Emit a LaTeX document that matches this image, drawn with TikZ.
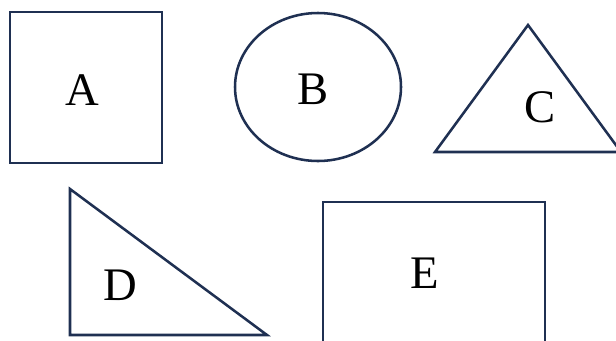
\documentclass[tikz,border=0pt]{standalone}
\usepackage{fontspec}
\setmainfont{Liberation Serif}
\definecolor{navy}{HTML}{1F3052}
\begin{document}
\begin{tikzpicture}[x=0.75pt,y=-0.75pt,
  shapeline/.style={draw=navy,line width=1.9pt,line join=miter},
  lbl/.style={font=\fontsize{35}{40}\selectfont,inner sep=0pt,anchor=center}]
\useasboundingbox (0,0) rectangle (616,340);
\clip (0,0) rectangle (616,340);
% A square
\draw[shapeline] (10,12) rectangle (162,163);
\node[lbl] (A) at (82,90) {A};
% B ellipse
\draw[shapeline] (318,87) ellipse [x radius=83, y radius=74];
\node[lbl] (B) at (313,89) {B};
% C triangle
\draw[shapeline] (528,25) -- (621,152) -- (435,152) -- cycle;
\node[lbl] (C) at (540,107) {C};
% D right triangle
\draw[shapeline] (70,189) -- (267,335) -- (70,335) -- cycle;
\node[lbl] (D) at (120,285) {D};
% E rectangle
\draw[shapeline] (323,360) -- (323,202) -- (545,202) -- (545,360);
\node[lbl] (E) at (425,273) {E};
\end{tikzpicture}
\end{document}
